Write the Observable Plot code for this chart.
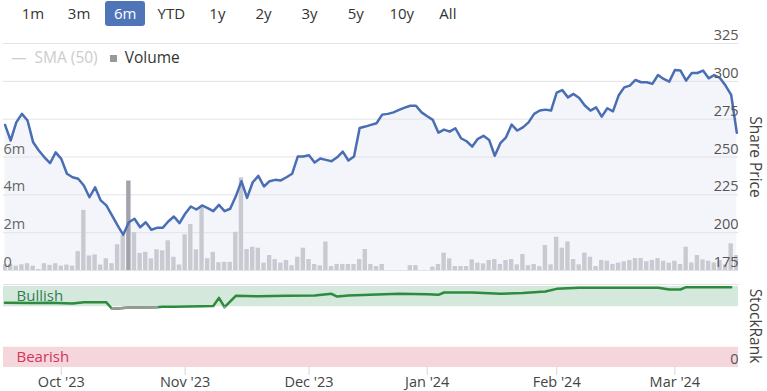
<!DOCTYPE html>
<html><head><meta charset="utf-8">
<script src="https://cdn.jsdelivr.net/npm/d3@7"></script>
<script src="https://cdn.jsdelivr.net/npm/@observablehq/plot@0.6"></script>
<style>
body{margin:0;background:#fff;font-family:"Open Sans",sans-serif;}
#wrap{position:relative;width:767px;height:391px;overflow:hidden;}
.layer{position:absolute;left:0;}
.btn{position:absolute;top:1px;width:40px;height:25px;line-height:24px;font-size:15px;color:#333;text-align:center;border-radius:3px;}
.btn.sel{background:#4f74b8;color:#fff;}
#legend{position:absolute;top:46px;left:11px;font-size:15.5px;white-space:nowrap;}
</style></head>
<body><div id="wrap"></div>
<script>
// ---- data ----
const rangeButtons = ["1m","3m","6m","YTD","1y","2y","3y","5y","10y","All"];
const selectedButton = "6m";
const price = [271.2,260.9,272.9,278.5,274.1,259.7,254.3,249.8,245.9,253.1,
248.8,238.9,236.6,235.6,231.2,223.4,230,221.3,218,211.4,
204.8,198.6,206.9,209.2,203.6,206.9,201.9,203.2,203.2,207.4,
210.7,206.3,212.5,217.3,215.3,218,216.2,214.2,218.4,214.2,
215.8,224,234,223,233.3,237.5,230.5,234,234.9,234.5,
236.6,238.9,250.3,250.3,251.2,246.3,249,248.1,247.2,249.8,
253.6,247.7,250.3,269.2,270.1,271.2,272.3,278,278.5,279.5,
281.1,282.6,283.9,283.9,279.5,276.9,274.5,266.1,268.1,266.8,
269,262.4,260.4,256.9,262,264,261.3,250.8,259.1,263,
271.4,267.5,269.6,272.9,278.5,280.7,281.3,280.7,292.5,294.2,
289.4,291.7,289,284,280.7,282.8,276.7,282.2,280.2,290.6,
296,297.2,300.9,299.4,299.4,298.3,304.2,301.6,299.8,307.5,
307.1,300.5,305.5,305.5,307.1,302,304.2,302.2,297.2,291,266];
const volumeM = [0.3,0.32,0.23,0.3,0.36,0.23,0.05,0.36,0.27,0.36,
0.23,0.29,0.23,1.0,3.18,0.77,0.82,0.29,0.62,0.36,
1.36,1.84,4.73,2.0,0.9,0.96,0.62,1.09,1.04,1.57,
0.7,0.29,1.89,2.43,1.09,3.32,0.62,0.96,0.41,0.43,
0.43,2.02,4.9,1.11,1.23,1.18,0.39,0.79,0.58,0.39,
0.53,0.25,0.7,1.18,0.58,0.32,0.25,1.51,0.21,0.32,
0.32,0.32,0.32,0.58,1.11,0.32,0.21,0.32,0,0,
0,0,0.26,0.26,0,0,0.18,0.32,0.92,0.62,
0.21,0.21,0.21,0.56,0.39,0.35,0.53,0.58,0.32,0.53,
0.58,0.3,0.85,0.26,0.32,0.2,1.32,0.3,1.76,1.18,
1.51,0.58,0.3,0.92,0.7,0.21,0.53,0.49,0.32,0.39,
0.46,0.53,0.63,0.63,0.46,0.53,0.63,0.49,0.39,0.49,
0.32,1.23,0.4,0.79,0.56,0.49,0.4,0.53,0.3,1.41,0.79];
const highlightedBar = 22;
const rankDay = [0,5,8,12,14,16,18,19,20,22,25,27,28,30,35,37,38,39,41,45,50,55,58,59,61,70,75,77,78,83,88,92,96,98,102,116,118,120,121,129];
const rankValue = [80,79.5,80,79,80.5,80.5,80.5,72.5,73,74,74,74.5,75,75,75.5,76,86,74.5,88.5,88,88.5,89,91,87.6,89,91,90.5,89.7,92.6,92.6,91,92,93.8,97.1,98.4,98.4,96.3,96.3,99.2,99.2];
const monthDay = [10,32,54,75,98,119];
const monthLabel = ["Oct '23","Nov '23","Dec '23","Jan '24","Feb '24","Mar '24"];
const priceTicks = [175,200,225,250,275,300,325];
const volumeTicks = [0,2,4,6];
const bands = [{name:"Bullish",from:75,to:100},{name:"Bearish",from:0,to:25}];

// ---- build ----
const wrap = document.getElementById("wrap");
const priceData = price.map((p,i)=>({i,p}));
const volData = volumeM.map((v,i)=>({i,v}));
const rankData = rankDay.map((d,k)=>({i:d,v:rankValue[k]}));
const W = 767, ML = 3, MR = 29;
const xDomain = [-0.27,130.3];
const font = {fontFamily:"'Open Sans',sans-serif",fontSize:"14.5px",color:"#555",background:"transparent",overflow:"visible"};
function place(svg, top){ svg.classList.add("layer"); svg.style.top = top+"px"; wrap.appendChild(svg); }

// buttons
rangeButtons.forEach((b,k)=>{
  const d=document.createElement("div");
  d.className="btn"+(b===selectedButton?" sel":"");
  d.style.left=(33+46.1*k-20)+"px";
  d.textContent=b; wrap.appendChild(d);
});

const main = {width:W,height:272,marginLeft:ML,marginRight:MR,marginTop:43,marginBottom:2,x:{domain:xDomain,axis:null},style:font};

// layer A: area + grid
place(Plot.plot({...main, y:{domain:[175,325],axis:null}, marks:[
  Plot.areaY(priceData,{x:"i",y1:175,y2:"p",fill:"#f3f5fb"}),
  Plot.gridY(priceTicks,{stroke:"#e3e3e3",strokeOpacity:1})
]}),0);

// layer B: volume
place(Plot.plot({...main, y:{domain:[0,12]}, marks:[
  Plot.rectY(volData,{x1:d=>d.i-0.39,x2:d=>d.i+0.39,y:"v",fill:d=>d.i===highlightedBar?"#a2a3aa":"#c9cad1",clip:true}),
  Plot.axisY(volumeTicks,{anchor:"left",tickSize:0,tickPadding:0,textAnchor:"start",dy:-8,fill:"#666",tickFormat:d=>d===0?"0":d+"m",label:null})
]}),0);

// layer C: price line + right axis
place(Plot.plot({...main, y:{domain:[175,325]}, marks:[
  Plot.line(priceData,{x:"i",y:"p",stroke:"#4a6eb4",strokeWidth:2.5}),
  Plot.axisY(priceTicks,{anchor:"right",tickSize:0,tickPadding:0,textAnchor:"end",dy:-8,fill:"#555",label:null}),
  Plot.text(["Share Price"],{frameAnchor:"right",dx:16,rotate:90,textAnchor:"middle",fontSize:15.5,fill:"#444"})
]}),0);

// StockRank panel
place(Plot.plot({width:W,height:119,marginLeft:ML,marginRight:MR,marginTop:12,marginBottom:24,x:{domain:xDomain},y:{domain:[0,102.5]},style:font,marks:[
  Plot.frame({anchor:"top",stroke:"#e3e3e3"}),
  Plot.rect(bands,{y1:"from",y2:"to",fill:d=>d.name==="Bullish"?"#d5e8dc":"#f5d6dc"}),
  Plot.text(bands,{y:d=>(d.from+d.to)/2,text:"name",frameAnchor:"left",dx:13,textAnchor:"start",fontSize:15,fill:d=>d.name==="Bullish"?"#2f8050":"#d2355a"}),
  Plot.line(rankData,{x:"i",y:"v",stroke:"#2e8a3e",strokeWidth:2.5}),
  Plot.line(rankData,{x:"i",y:d=>d.v<75?d.v:NaN,stroke:"#9a9a9a",strokeWidth:2.5}),
  Plot.axisY([0],{anchor:"right",tickSize:0,tickPadding:0,textAnchor:"end",dy:-8,fill:"#555",label:null}),
  Plot.axisX(monthDay,{tickSize:8,tickPadding:1,stroke:"#d6d6d6",fill:"#444",tickFormat:(d,k)=>monthLabel[k],label:null}),
  Plot.text(["StockRank"],{frameAnchor:"right",dx:16,rotate:90,textAnchor:"middle",fontSize:15.5,fill:"#444"})
]}),272);

// legend
const lg=document.createElement("div"); lg.id="legend";
lg.innerHTML='<span style="color:#ccc">—&nbsp;&nbsp;SMA (50)</span><span style="display:inline-block;width:7px;height:7px;background:#999;margin:0 8px 0 12px;vertical-align:1px"></span><span style="color:#333">Volume</span>';
wrap.appendChild(lg);
</script></body></html>
